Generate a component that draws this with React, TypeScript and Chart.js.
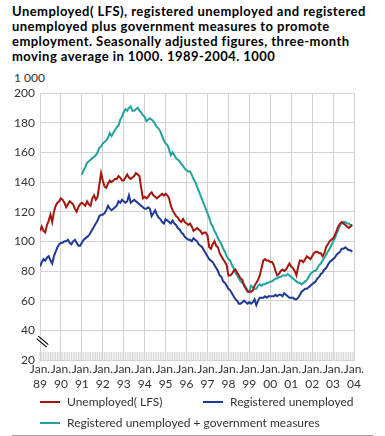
import React, { useEffect, useRef } from "react";
import { Chart, registerables } from "chart.js";

Chart.register(...registerables);

const titleLines = [
  "Unemployed( LFS), registered unemployed and registered",
  "unemployed plus government measures to promote",
  "employment. Seasonally adjusted figures, three-month",
  "moving average in 1000. 1989-2004. 1000",
];

const unitLabel = "1 000";

const yearLabels = ["89", "90", "91", "92", "93", "94", "95", "96", "97", "98", "99", "00", "01", "02", "03", "04"];

const seriesNames = [
  "Unemployed( LFS)",
  "Registered unemployed",
  "Registered unemployed + government measures",
];

// Monthly values, Jan 1989 - Dec 2003 (1000 persons)
const lfsUnemployed = [
  107, 110, 107, 106, 111, 114, 118, 113, 120, 124, 126, 127,
  129, 128, 126, 123, 125, 127, 126, 125, 122, 120, 123, 125,
  126, 125, 124, 127, 125, 124, 129, 131, 128, 130, 138, 146,
  141, 137, 136, 139, 141, 140, 141, 142, 142, 144, 143, 141,
  141, 143, 145, 143, 142, 143, 144, 146, 145, 144, 136, 129,
  130, 129, 130, 132, 133, 131, 130, 129, 130, 131, 132, 131,
  132, 131, 129, 124, 121, 119, 117, 116, 114, 113, 115, 113,
  112, 111, 112, 110, 107, 108, 109, 108, 107, 105, 106, 106,
  104, 96, 95, 98, 100, 97, 96, 92, 90, 88, 86, 84,
  77, 77, 78, 80, 81, 79, 77, 75, 74, 70, 68, 66,
  66, 66, 67, 70, 72, 74, 77, 82, 87, 88, 87, 87,
  86, 86, 84, 80, 77, 78, 80, 81, 80, 81, 83, 85,
  83, 82, 80, 77, 83, 87, 87, 86, 88, 90, 89, 88,
  90, 92, 93, 93, 92, 92, 90, 92, 96, 98, 100, 101,
  102, 104, 107, 110, 112, 113, 112, 111, 110, 109, 110, 111,
];

const registeredUnemployed = [
  83, 86, 88, 87, 89, 90, 87, 85, 90, 93, 96, 98,
  99, 99, 100, 100, 101, 99, 98, 100, 101, 99, 97, 97,
  99, 101, 102, 103, 104, 106, 108, 110, 112, 114, 117, 118,
  118, 119, 121, 124, 122, 121, 122, 123, 124, 127, 126, 128,
  127, 126, 127, 131, 126, 127, 128, 127, 126, 125, 124, 123,
  122, 122, 123, 122, 117, 119, 121, 118, 116, 115, 113, 112,
  115, 114, 113, 112, 114, 112, 111, 109, 108, 106, 105, 103,
  102, 101, 101, 100, 102, 101, 100, 98, 97, 96, 94, 92,
  90, 88, 87, 86, 84, 82, 80, 77, 76, 73, 72, 70,
  68, 67, 65, 63, 61, 60, 58, 58, 59, 60, 59, 58,
  59, 58, 59, 61, 57, 60, 62, 62, 62, 63, 62, 63,
  63, 63, 63, 64, 63, 64, 64, 63, 65, 64, 63, 62,
  62, 62, 61, 61, 62, 64, 66, 67, 68, 68, 69, 70,
  71, 72, 73, 75, 76, 78, 79, 81, 82, 84, 86, 87,
  88, 89, 91, 92, 93, 95, 95, 96, 95, 94, 94, 93,
];

// Monthly values, Jan 1991 - Dec 2003
const measuresStartMonth = 24;
const registeredPlusMeasures = [
  145, 148, 150, 153, 154, 155, 156, 157, 158, 160, 163, 164,
  166, 167, 168, 170, 173, 171, 173, 175, 177, 178, 182, 184,
  187, 189, 188, 190, 191, 188, 188, 189, 190, 188, 187, 185,
  184, 181, 182, 183, 182, 181, 179, 177, 176, 174, 171, 168,
  166, 165, 162, 158, 160, 158, 156, 155, 154, 152, 151, 149,
  148, 147, 147, 145, 142, 140, 137, 134, 131, 128, 125, 122,
  119, 116, 112, 110, 107, 105, 102, 100, 98, 95, 93, 90,
  88, 87, 84, 82, 79, 77, 75, 73, 72, 71, 69, 67,
  66, 70, 69, 68, 68, 70, 71, 70, 71, 71, 72, 72,
  73, 73, 74, 75, 75, 76, 76, 77, 77, 77, 78, 77,
  76, 75, 74, 73, 72, 72, 71, 72, 73, 74, 76, 78,
  79, 80, 80, 82, 84, 85, 87, 89, 91, 93, 95, 97,
  100, 102, 105, 108, 111, 112, 113, 113, 112, 112, 111, 111,
];

const colors = ["#a3170f", "#1f3a96", "#22a39e"];
const FONT = "Lato, 'Open Sans', sans-serif";
const TEXT = "#333333";
const GRID = "#d2d2d2";

const toPoints = (vals: number[], start: number) => vals.map((v, i) => ({ x: start + i, y: v }));

const extrasPlugin = {
  id: "extras",
  beforeDatasetsDraw(chart: any) {
    const { ctx, chartArea, scales } = chart;
    const x = scales.x;
    ctx.save();
    ctx.strokeStyle = "#d4d4d4";
    ctx.lineWidth = 1;
    for (let m = 0; m <= 180; m++) {
      const px = x.getPixelForValue(m);
      ctx.beginPath();
      ctx.moveTo(px, chartArea.bottom);
      ctx.lineTo(px, chartArea.bottom - 8);
      ctx.stroke();
    }
    ctx.restore();
  },
  afterDraw(chart: any) {
    const { ctx, chartArea, scales } = chart;
    const yc = scales.y.getPixelForValue(30);
    const xl = chartArea.left;
    ctx.save();
    ctx.strokeStyle = "#000";
    ctx.lineWidth = 1.2;
    ctx.beginPath();
    ctx.moveTo(xl - 1.7, yc - 9);
    ctx.lineTo(xl + 8.3, yc - 0.5);
    ctx.moveTo(xl - 3.3, yc - 6.5);
    ctx.lineTo(xl + 6.7, yc + 2);
    ctx.stroke();
    ctx.restore();
  },
};

export default function App() {
  const ref = useRef<HTMLCanvasElement | null>(null);

  useEffect(() => {
    if (!ref.current) return;
    const chart = new Chart(ref.current, {
      type: "line",
      data: {
        datasets: [
          { label: seriesNames[0], data: toPoints(lfsUnemployed, 0), borderColor: colors[0] },
          { label: seriesNames[1], data: toPoints(registeredUnemployed, 0), borderColor: colors[1] },
          { label: seriesNames[2], data: toPoints(registeredPlusMeasures, measuresStartMonth), borderColor: colors[2] },
        ].map((d) => ({ ...d, borderWidth: 2, pointRadius: 0, tension: 0, fill: false })),
      },
      options: {
        animation: false,
        responsive: false,
        events: [],
        layout: { padding: { left: 0, right: 31, top: 93, bottom: 36 } },
        plugins: { legend: { display: false }, tooltip: { enabled: false }, title: { display: false } },
        scales: {
          x: {
            type: "linear",
            min: 0,
            max: 180,
            afterFit: (s: any) => { s.height = 40; },
            grid: { color: GRID, drawTicks: false, lineWidth: 1 },
            border: { color: GRID },
            ticks: {
              stepSize: 12,
              autoSkip: false,
              maxRotation: 0,
              padding: 1,
              color: TEXT,
              font: { family: FONT, size: 12, lineHeight: 1.3 },
              callback: (v: any) => ["Jan.", yearLabels[Math.round(Number(v) / 12)]],
            },
          },
          y: {
            min: 20,
            max: 200,
            afterFit: (s: any) => { s.width = 40; },
            grid: { color: GRID, drawTicks: false, lineWidth: 1 },
            border: { color: GRID },
            ticks: {
              stepSize: 20,
              padding: 5,
              color: TEXT,
              font: { family: FONT, size: 12 },
            },
          },
        },
      },
      plugins: [extrasPlugin],
    });
    return () => chart.destroy();
  }, []);

  const legendText: React.CSSProperties = {
    position: "absolute",
    font: `12px ${FONT}`,
    lineHeight: "14px",
    color: TEXT,
    whiteSpace: "nowrap",
  };
  const swatch = (left: number, top: number, color: string): React.CSSProperties => ({
    position: "absolute",
    left,
    top,
    width: 20,
    height: 2,
    background: color,
  });

  return (
    <div style={{ position: "absolute", left: 0, top: 0, width: 385, height: 436, background: "#fff", overflow: "hidden" }}>
      <div
        style={{
          position: "absolute",
          left: 12,
          top: 3.5,
          font: `bold 13px ${FONT}`,
          lineHeight: "15px",
          letterSpacing: "0.45px",
          color: "#000",
          whiteSpace: "nowrap",
        }}
      >
        {titleLines.map((t, i) => (
          <div key={i}>{t}</div>
        ))}
      </div>
      <div style={{ ...legendText, left: 14, top: 71 }}>{unitLabel}</div>
      <canvas ref={ref} width={385} height={436} style={{ position: "absolute", left: 0, top: 0, width: 385, height: 436 }} />
      <div style={swatch(40, 401, colors[0])} />
      <div style={{ ...legendText, left: 67, top: 394.5 }}>{seriesNames[0]}</div>
      <div style={swatch(203, 401, colors[1])} />
      <div style={{ ...legendText, left: 230, top: 394.5 }}>{seriesNames[1]}</div>
      <div style={swatch(40, 422, colors[2])} />
      <div style={{ ...legendText, left: 67, top: 415.5 }}>{seriesNames[2]}</div>
      <div style={{ position: "absolute", left: 12, top: 435, width: 361, height: 1, background: "#a0a0a0" }} />
    </div>
  );
}
